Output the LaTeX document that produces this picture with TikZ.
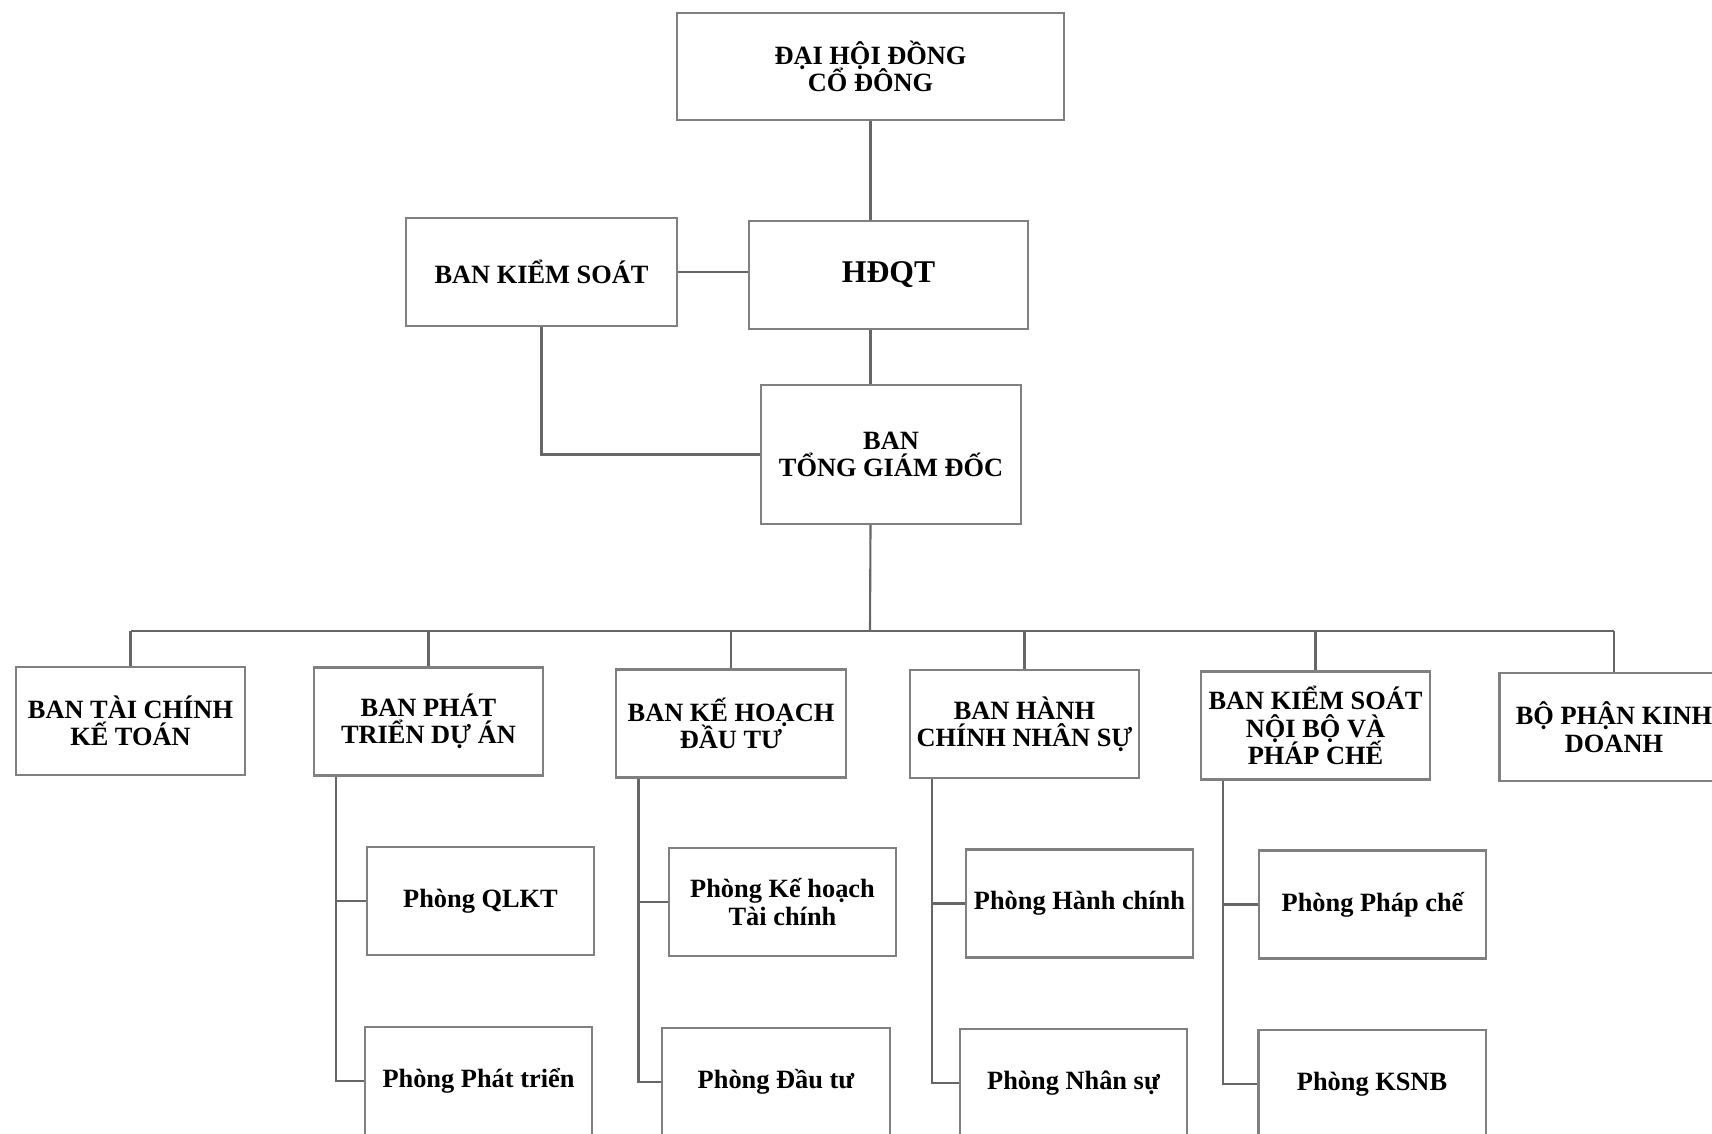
\documentclass[tikz,border=0pt]{standalone}
\usepackage{fontspec}
\setmainfont{Liberation Serif}
\usetikzlibrary{positioning, calc}

\newcommand\orgfont{\bfseries\fontsize{7.5}{7.8}\selectfont\lineskiplimit -10pt\relax}

\tikzset{
  orgbox/.style={draw=black!50, line width=0.6pt, align=center, inner sep=1pt,
    font=\orgfont},
  unitbox/.style={orgbox, minimum width=2.29cm, minimum height=1.08cm},
  link/.style={draw=black!60, line width=0.6pt},
}

\begin{document}
\begin{tikzpicture}[x=0.01cm, y=-0.01cm]
    \useasboundingbox (0,0) rectangle (1712,1133);

    % top of the chart
    \node[orgbox, minimum width=3.87cm, minimum height=1.07cm] (dhdcd) at (870.5,66.5) {ĐẠI HỘI ĐỒNG\\CỔ ĐÔNG};
    \node[orgbox, minimum width=2.71cm, minimum height=1.08cm] (bks) at (541.5,272) {BAN KIỂM SOÁT};
    \node[orgbox, minimum width=2.79cm, minimum height=1.08cm, font=\bfseries\fontsize{9}{10}\selectfont] (hdqt) at (888.5,275) {HĐQT};
    \node[orgbox, minimum width=2.6cm, minimum height=1.39cm] (tgd) at (891,454.5) {BAN\\TỔNG GIÁM ĐỐC};

    \draw[link] (dhdcd.south) -- (dhdcd.south |- hdqt.north);
    \draw[link] (dhdcd.south |- hdqt.south) -- (dhdcd.south |- tgd.north);
    \draw[link] (bks.east) -- (bks.east -| hdqt.west);
    \draw[link] (bks.south) |- (tgd.west);

    \coordinate (bus) at (870,631);
    \draw[link] (dhdcd.south |- tgd.south) -- (bus);

    % departments
    \foreach \name/\x/\y/\txt in {
        btc/130.5/721/{BAN TÀI CHÍNH\\KẾ TOÁN},
        bptda/428.5/721.5/{BAN PHÁT\\TRIỂN DỰ ÁN},
        bkhdt/731/723.5/{BAN KẾ HOẠCH\\ĐẦU TƯ},
        bhcns/1024.5/724/{BAN HÀNH\\CHÍNH NHÂN SỰ},
        bksnb/1315.5/725.5/{BAN KIỂM SOÁT\\NỘI BỘ VÀ\\PHÁP CHẾ},
        bpkd/1614/727/{BỘ PHẬN KINH\\DOANH}} {
        \node[unitbox] (\name) at (\x,\y) {\txt};
        \draw[link] (\name.north) -- (\name.north |- bus);
    }
    \draw[link] (btc.north |- bus) -- (bpkd.north |- bus);

    % offices under each department
    \foreach \head/\name/\x/\y/\txt in {
        bptda/qlkt/480.5/901/{Phòng QLKT},
        bptda/ppt/478.5/1081/{Phòng Phát triển},
        bkhdt/khtc/782.5/902/{Phòng Kế hoạch\\Tài chính},
        bkhdt/pdt/776/1082/{Phòng Đầu tư},
        bhcns/phc/1079.5/903.5/{Phòng Hành chính},
        bhcns/pns/1073.5/1083/{Phòng Nhân sự},
        bksnb/ppc/1372.5/904.5/{Phòng Pháp chế},
        bksnb/ksnb/1372/1084/{Phòng KSNB}} {
        \node[unitbox, minimum width=2.27cm] (\name) at (\x,\y) {\txt};
        \path (\head.south west) -- (\head.south east)
        coordinate[pos=0.1] (r\head);
        \draw[link] (r\head) -- (r\head |- \name.west) -- (\name.west);
    }
\end{tikzpicture}
\end{document}
